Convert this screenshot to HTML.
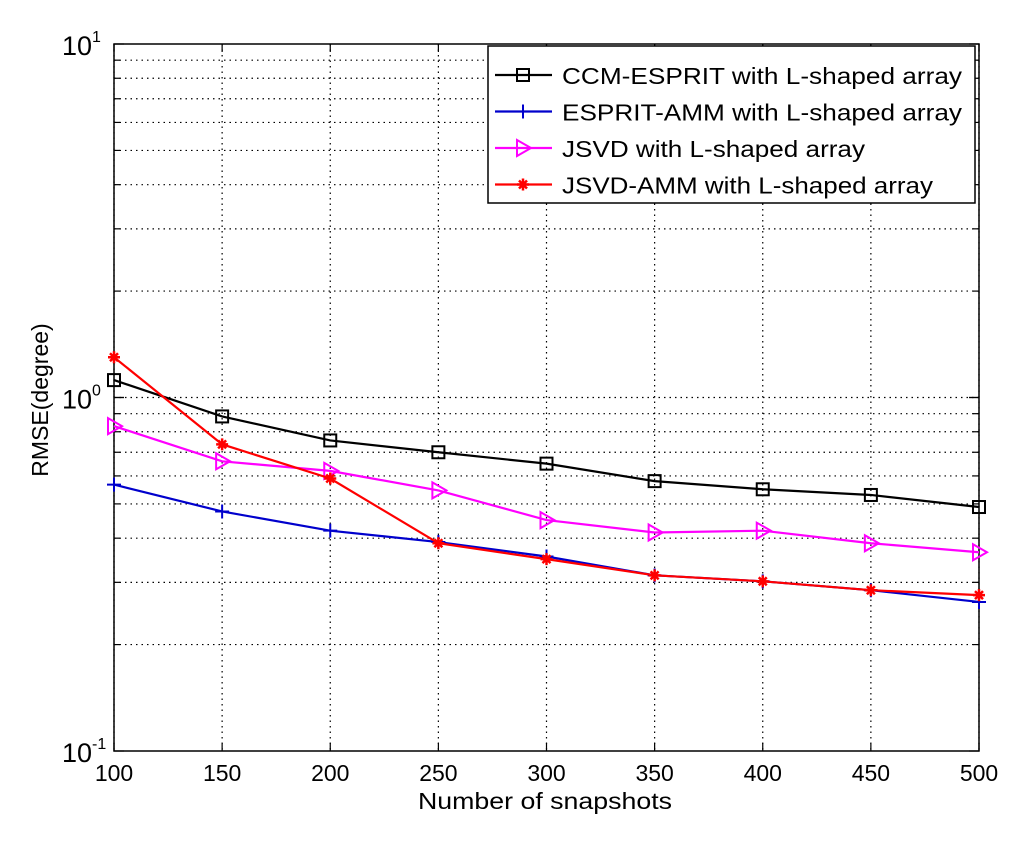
<!DOCTYPE html>
<html><head><meta charset="utf-8"><style>
body{margin:0;background:#fff;}
svg text{font-family:"Liberation Sans",Arial,sans-serif;fill:#000;}
</style></head><body>
<svg id="chart" width="1024" height="845" xmlns="http://www.w3.org/2000/svg">
<rect width="1024" height="845" fill="#fff"/>
<g id="grid"></g>
<g id="axes"></g>
<g id="series"></g>
<text x="418" y="809" font-size="23" textLength="254" lengthAdjust="spacingAndGlyphs">Number of snapshots</text>
<text transform="translate(48,400) rotate(-90)" font-size="23" text-anchor="middle">RMSE(degree)</text>
<g id="legend"></g>
</svg>
<script>
const xValues=[100,150,200,250,300,350,400,450,500];
const ccmEsprit=[1.12,0.884,0.756,0.70,0.65,0.58,0.55,0.53,0.49];
const espritAmm=[0.567,0.476,0.42,0.39,0.355,0.314,0.302,0.285,0.264];
const jsvd=[0.83,0.66,0.62,0.546,0.45,0.415,0.42,0.387,0.365];
const jsvdAmm=[1.30,0.737,0.59,0.387,0.349,0.314,0.302,0.285,0.276];
const xTicks=[100,150,200,250,300,350,400,450,500];
const yDecades=[-1,0,1];
const legendLabels=["CCM-ESPRIT with L-shaped array","ESPRIT-AMM with L-shaped array","JSVD with L-shaped array","JSVD-AMM with L-shaped array"];
const legendWidths=[400,400,303,371];

const NS="http://www.w3.org/2000/svg";
const L=114,R=979,T=44,B=751;
function X(v){return L+(v-100)/400*(R-L);}
function Y(v){return B-(Math.log10(v)+1)/2*(B-T);}
function mk(tag,attrs,parent){const e=document.createElementNS(NS,tag);for(const k in attrs)e.setAttribute(k,attrs[k]);parent.appendChild(e);return e;}
const grid=document.getElementById('grid'),axes=document.getElementById('axes'),ser=document.getElementById('series'),leg=document.getElementById('legend');
xTicks.forEach(t=>{
 const g=mk('line',{x1:X(t),x2:X(t),y1:T,y2:B,stroke:'#000','stroke-width':1.2,'stroke-dasharray':'1.5 4'},grid);
 
 
 mk('line',{x1:X(t),x2:X(t),y1:B,y2:B-8,stroke:'#000','stroke-width':1.2},axes);
 mk('line',{x1:X(t),x2:X(t),y1:T,y2:T+8,stroke:'#000','stroke-width':1.2},axes);
 const tx=mk('text',{x:X(t),y:B+30,'font-size':23,'text-anchor':'middle'},axes);
 tx.textContent=t;
 
 
});
for(let d=-1;d<1;d++){for(let m=1;m<=10;m++){const v=m*Math.pow(10,d);const y=Y(v);
 if(m>1&&m<10){const g=mk('line',{x1:L,x2:R,y1:y,y2:y,stroke:'#000','stroke-width':1.2,'stroke-dasharray':'1.5 4'},grid);
 
 }
 mk('line',{x1:L,x2:L+(m==1||m==10?10:6),y1:y,y2:y,stroke:'#000','stroke-width':1.2},axes);
 mk('line',{x1:R,x2:R-(m==1||m==10?10:6),y1:y,y2:y,stroke:'#000','stroke-width':1.2},axes);}}
yDecades.forEach(d=>{const y=Y(Math.pow(10,d));
 if(d==0){const g=mk('line',{x1:L,x2:R,y1:y,y2:y,stroke:'#000','stroke-width':1.2,'stroke-dasharray':'1.5 4'},grid);
 
 }
 const tx=mk('text',{x:L-52,y:y+11,'font-size':27},axes);
 tx.textContent='10';
 
 
 const ts=mk('tspan',{dy:-13,'font-size':16},tx);ts.textContent=String(d);
});
const frame=mk('rect',{x:L,y:T,width:R-L,height:B-T,fill:'none',stroke:'#000','stroke-width':1.5},axes);


function marker(type,x,y,c,p){
 if(type=='sq')mk('rect',{x:x-6,y:y-6,width:12,height:12,fill:'none',stroke:c,'stroke-width':2},p);
 else if(type=='plus'){mk('path',{d:`M${x-7} ${y}H${x+7}M${x} ${y-7}V${y+7}`,stroke:c,'stroke-width':2},p);}
 else if(type=='tri')mk('path',{d:`M${x-6} ${y-8}L${x+8} ${y}L${x-6} ${y+8}Z`,fill:'none',stroke:c,'stroke-width':2},p);
 else {mk('path',{d:`M${x-6} ${y}H${x+6}M${x} ${y-6}V${y+6}M${x-4} ${y-4}L${x+4} ${y+4}M${x-4} ${y+4}L${x+4} ${y-4}`,stroke:c,'stroke-width':2.5},p);}
}
const defs=[[ccmEsprit,'#000','sq','ccm-esprit-series'],[espritAmm,'#0000cc','plus','esprit-amm-series'],[jsvd,'#ff00ff','tri','jsvd-series'],[jsvdAmm,'#ff0000','star','jsvd-amm-series']];
defs.forEach(([d,c,m,n])=>{
 const g=mk('g',{},ser);
 
 
 mk('polyline',{points:d.map((v,i)=>X(xValues[i])+','+Y(v)).join(' '),fill:'none',stroke:c,'stroke-width':2.2},g);
 d.forEach((v,i)=>marker(m,X(xValues[i]),Y(v),c,g));
});
const lb=mk('rect',{x:488,y:46,width:487,height:157,fill:'#fff',stroke:'#000','stroke-width':1.5},leg);


legendLabels.forEach((s,i)=>{const y=75+i*36.5;const[, c,m]=defs[i];
 const g=mk('g',{},leg);
 
 
 mk('line',{x1:495,x2:552,y1:y,y2:y,stroke:c,'stroke-width':2.2},g);
 marker(m,523,y,c,g);
 const t=mk('text',{x:562,y:y+9,'font-size':23,textLength:legendWidths[i],lengthAdjust:'spacingAndGlyphs'},g);t.textContent=s;
});
</script>
</body></html>
